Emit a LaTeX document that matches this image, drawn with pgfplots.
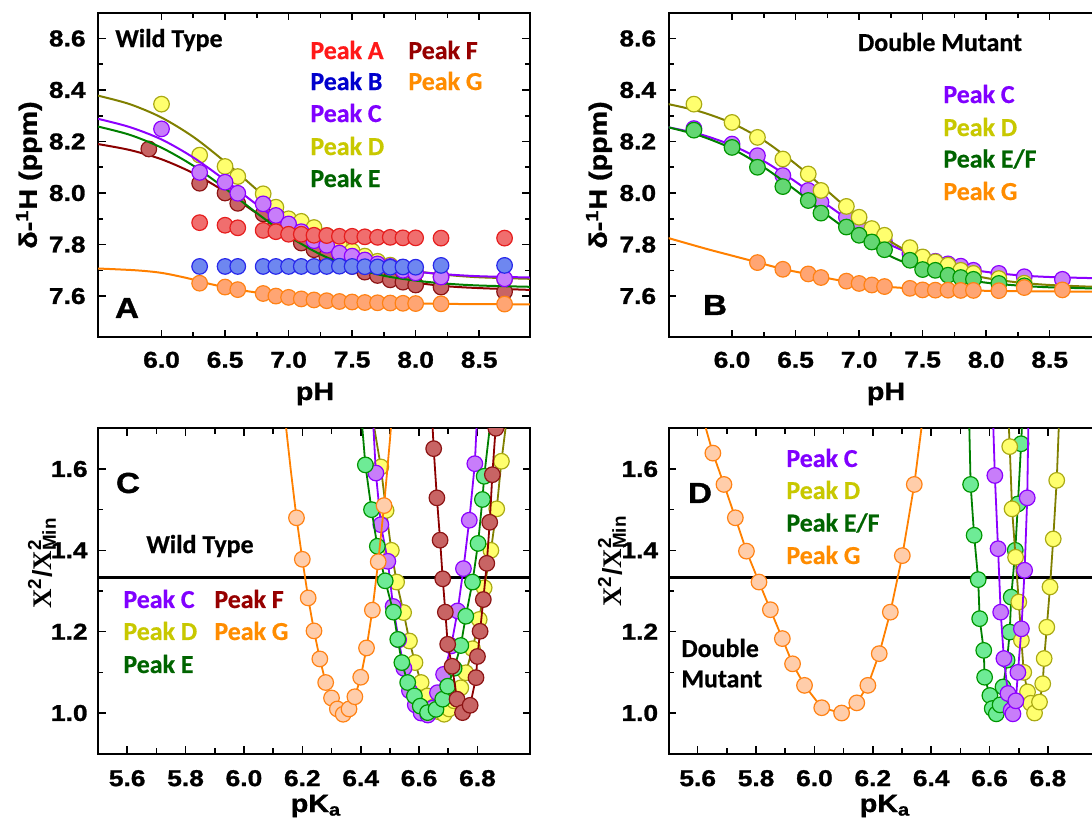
\documentclass[border=0pt]{standalone}
\usepackage{fontspec}
\setmainfont{Liberation Sans}
\newfontfamily\calf[BoldFeatures={FakeBold=0.6}]{Carlito}
\newfontfamily\heavy[FakeStretch=1.15, BoldFeatures={FakeBold=1.2}]{Liberation Sans}
\newfontfamily\tms{Liberation Serif}
\usepackage{pgfplots}
\pgfplotsset{compat=1.18}
\definecolor{redF}{RGB}{240,110,110}\definecolor{redE}{RGB}{230,30,30}\definecolor{redT}{RGB}{255,25,25}
\definecolor{bluF}{RGB}{110,135,240}\definecolor{bluE}{RGB}{40,40,235}\definecolor{bluT}{RGB}{0,0,205}
\definecolor{purF}{RGB}{200,125,250}\definecolor{purE}{RGB}{140,0,255}\definecolor{purT}{RGB}{128,0,255}
\definecolor{yelF}{RGB}{255,255,110}\definecolor{yelE}{RGB}{170,170,20}\definecolor{yelL}{RGB}{128,128,0}\definecolor{yelT}{RGB}{200,200,0}
\definecolor{grnF}{RGB}{110,235,150}\definecolor{grnF2}{RGB}{100,215,115}\definecolor{grnE}{RGB}{0,150,0}\definecolor{grnL}{RGB}{0,128,0}\definecolor{grnT}{RGB}{0,100,0}
\definecolor{drF}{RGB}{200,100,100}\definecolor{drE}{RGB}{140,20,20}\definecolor{drL}{RGB}{139,0,0}\definecolor{drT}{RGB}{150,0,0}
\definecolor{orF}{RGB}{255,165,115}\definecolor{orF2}{RGB}{255,205,170}\definecolor{orE}{RGB}{255,130,20}\definecolor{orL}{RGB}{255,128,0}\definecolor{orT}{RGB}{255,140,0}
\pgfplotsset{
 panel/.style={scale only axis, width=216bp, anchor=south west,
  axis line style={line width=1bp}, tick align=inside,
  major tick length=3.75bp, minor tick length=2.6bp,
  every tick/.style={line width=0.8bp, black},
  every minor tick/.style={line width=0.8bp, black},
  tick label style={font=\fontsize{11.5}{12}\selectfont\heavy\bfseries},
  /pgf/number format/assume math mode=true,
  /pgf/number format/fixed, /pgf/number format/fixed zerofill, /pgf/number format/precision=1,
  clip marker paths=true},
 mk/.style 2 args={only marks, mark=*, mark size=3.9bp, mark options={fill=#1, draw=#2, line width=0.6bp, solid}},
 ln/.style={no marks, line width=1bp, color=#1},
}
\newcommand{\lgd}{\fontsize{13}{14}\selectfont\calf\bfseries}
\newcommand{\plt}{\fontsize{14.5}{15}\selectfont\heavy\bfseries}
\newcommand{\axl}{\fontsize{12.5}{14}\selectfont\heavy\bfseries}
\begin{document}
\begin{tikzpicture}
\useasboundingbox (0,0) rectangle (546bp,411bp);
% ---------------- Panel A ----------------
\begin{axis}[panel, at={(49bp,242.35bp)}, height=162.3bp,
 xmin=5.5, xmax=8.9, ymin=7.44, ymax=8.7,
 xtick={6.0,6.5,7.0,7.5,8.0,8.5}, ytick={7.6,7.8,8.0,8.2,8.4,8.6},
 minor x tick num=1, minor y tick num=1,
 xticklabel style={anchor=north, inner sep=0pt, yshift=-7bp},
 yticklabel style={anchor=east, inner sep=0pt, xshift=-6bp}]
\addplot[ln=yelL, smooth] coordinates {(5.5,8.378)(5.75,8.345)(6.0,8.293)(6.25,8.218)(6.5,8.121)(6.75,8.013)(7.0,7.909)(7.25,7.824)(7.5,7.762)(7.75,7.722)(8.0,7.697)(8.25,7.682)(8.5,7.673)(8.9,7.667)};
\addplot[mk={yelF}{yelE}] coordinates {(6.0,8.345)(6.3,8.147)(6.5,8.103)(6.6,8.064)(6.8,7.997)(6.9,7.945)(7.0,7.90)(7.1,7.89)(7.2,7.866)(7.3,7.835)(7.4,7.80)(7.5,7.775)(7.6,7.755)(7.7,7.735)(7.8,7.72)(7.9,7.70)(8.0,7.69)(8.2,7.675)(8.7,7.665)};
\addplot[ln=drL, smooth] coordinates {(5.5,8.190)(5.75,8.167)(6.0,8.131)(6.25,8.077)(6.5,8.005)(6.75,7.921)(7.0,7.837)(7.25,7.765)(7.5,7.711)(7.75,7.675)(8.0,7.652)(8.25,7.638)(8.5,7.631)(8.9,7.624)};
\addplot[mk={drF}{drE}] coordinates {(5.9,8.171)(6.3,8.038)(6.5,8.0)(6.6,7.96)(6.8,7.919)(6.9,7.88)(7.0,7.85)(7.1,7.806)(7.2,7.78)(7.3,7.755)(7.4,7.735)(7.5,7.715)(7.6,7.693)(7.7,7.68)(7.8,7.663)(7.9,7.654)(8.0,7.643)(8.2,7.635)(8.7,7.617)};
\addplot[ln=grnL, smooth] coordinates {(5.5,8.258)(5.75,8.226)(6.0,8.176)(6.25,8.106)(6.5,8.018)(6.75,7.922)(7.0,7.833)(7.25,7.762)(7.5,7.712)(7.75,7.679)(8.0,7.660)(8.25,7.648)(8.5,7.641)(8.9,7.636)};
\addplot[ln=purE, smooth] coordinates {(5.5,8.288)(5.75,8.256)(6.0,8.208)(6.25,8.138)(6.5,8.050)(6.75,7.955)(7.0,7.867)(7.25,7.797)(7.5,7.747)(7.75,7.715)(8.0,7.695)(8.25,7.684)(8.5,7.677)(8.9,7.672)};
\addplot[mk={purF}{purE}] coordinates {(6.0,8.249)(6.3,8.08)(6.5,8.042)(6.6,7.999)(6.8,7.958)(6.9,7.913)(7.0,7.88)(7.1,7.85)(7.2,7.815)(7.3,7.797)(7.4,7.767)(7.5,7.755)(7.6,7.74)(7.7,7.725)(7.8,7.715)(7.9,7.70)(8.0,7.69)(8.2,7.674)(8.7,7.667)};
\addplot[mk={redF}{redE}] coordinates {(6.3,7.885)(6.5,7.875)(6.6,7.865)(6.8,7.855)(6.9,7.85)(7.0,7.84)(7.1,7.84)(7.2,7.836)(7.3,7.835)(7.4,7.832)(7.5,7.832)(7.6,7.83)(7.7,7.828)(7.8,7.828)(7.9,7.826)(8.0,7.826)(8.2,7.825)(8.7,7.825)};
\addplot[mk={bluF}{bluE}] coordinates {(6.3,7.715)(6.5,7.715)(6.6,7.715)(6.8,7.715)(6.9,7.715)(7.0,7.715)(7.1,7.715)(7.2,7.715)(7.3,7.715)(7.4,7.716)(7.5,7.715)(7.6,7.714)(7.7,7.713)(7.8,7.712)(7.9,7.713)(8.0,7.712)(8.2,7.719)(8.7,7.719)};
\addplot[ln=orL, smooth] coordinates {(5.5,7.707)(5.8,7.70)(6.0,7.69)(6.2,7.67)(6.4,7.645)(6.6,7.625)(6.8,7.61)(7.0,7.597)(7.2,7.587)(7.4,7.58)(7.6,7.576)(7.8,7.573)(8.0,7.571)(8.4,7.569)(8.9,7.568)};
\addplot[mk={orF}{orE}] coordinates {(6.3,7.65)(6.5,7.635)(6.6,7.625)(6.8,7.61)(6.9,7.60)(7.0,7.595)(7.1,7.589)(7.2,7.585)(7.3,7.582)(7.4,7.579)(7.5,7.577)(7.6,7.575)(7.7,7.574)(7.8,7.573)(7.9,7.572)(8.0,7.571)(8.2,7.570)(8.7,7.569)};
\end{axis}
% ---------------- Panel B ----------------
\begin{axis}[panel, at={(334.25bp,242.35bp)}, height=162.3bp,
 xmin=5.5, xmax=8.9, ymin=7.44, ymax=8.7,
 xtick={6.0,6.5,7.0,7.5,8.0,8.5}, ytick={7.6,7.8,8.0,8.2,8.4,8.6},
 minor x tick num=1, minor y tick num=1,
 xticklabel style={anchor=north, inner sep=0pt, yshift=-7bp},
 yticklabel style={anchor=east, inner sep=0pt, xshift=-6bp}]
\addplot[ln=purE, smooth] coordinates {(5.5,8.255)(5.75,8.228)(6.0,8.185)(6.25,8.124)(6.5,8.044)(6.75,7.954)(7.0,7.869)(7.25,7.798)(7.5,7.748)(7.75,7.714)(8.0,7.694)(8.25,7.681)(8.5,7.674)(8.9,7.669)};
\addplot[mk={purF}{purE}] coordinates {(5.7,8.25)(6.0,8.19)(6.2,8.145)(6.4,8.068)(6.6,8.010)(6.7,7.964)(6.9,7.906)(7.0,7.87)(7.1,7.84)(7.2,7.81)(7.4,7.765)(7.5,7.75)(7.6,7.735)(7.7,7.725)(7.8,7.716)(7.9,7.70)(8.1,7.688)(8.3,7.675)(8.6,7.665)};
\addplot[ln=yelL, smooth] coordinates {(5.5,8.345)(5.75,8.316)(6.0,8.271)(6.25,8.204)(6.5,8.113)(6.75,8.008)(7.0,7.902)(7.25,7.811)(7.5,7.744)(7.75,7.699)(8.0,7.670)(8.25,7.653)(8.5,7.643)(8.9,7.635)};
\addplot[mk={yelF}{yelE}] coordinates {(5.7,8.345)(6.0,8.274)(6.2,8.216)(6.4,8.132)(6.6,8.074)(6.7,8.010)(6.9,7.948)(7.0,7.906)(7.1,7.862)(7.2,7.836)(7.4,7.788)(7.5,7.752)(7.6,7.733)(7.7,7.720)(7.8,7.700)(7.9,7.688)(8.1,7.668)(8.3,7.65)};
\addplot[ln=grnL, smooth] coordinates {(5.5,8.255)(5.75,8.222)(6.0,8.172)(6.25,8.100)(6.5,8.011)(6.75,7.914)(7.0,7.825)(7.25,7.754)(7.5,7.704)(7.75,7.672)(8.0,7.652)(8.25,7.641)(8.5,7.634)(8.9,7.629)};
\addplot[mk={grnF2}{grnE}] coordinates {(5.7,8.244)(6.0,8.177)(6.2,8.100)(6.4,8.025)(6.6,7.971)(6.7,7.922)(6.9,7.868)(7.0,7.836)(7.1,7.810)(7.2,7.780)(7.4,7.739)(7.5,7.703)(7.6,7.700)(7.7,7.681)(7.8,7.672)(7.9,7.665)(8.1,7.649)(8.3,7.64)};
\addplot[ln=orL, smooth] coordinates {(5.5,7.825)(5.8,7.783)(6.0,7.757)(6.2,7.731)(6.4,7.705)(6.6,7.685)(6.8,7.665)(7.0,7.649)(7.2,7.637)(7.4,7.630)(7.6,7.625)(7.8,7.622)(8.1,7.620)(8.5,7.618)(8.9,7.617)};
\addplot[mk={orF}{orE}] coordinates {(6.2,7.73)(6.4,7.704)(6.6,7.686)(6.7,7.672)(6.9,7.658)(7.0,7.649)(7.1,7.643)(7.2,7.637)(7.4,7.63)(7.5,7.624)(7.6,7.623)(7.7,7.623)(7.8,7.622)(7.9,7.622)(8.1,7.621)(8.3,7.633)(8.6,7.624)};
\end{axis}
% ---------------- Panel C ----------------
\begin{axis}[panel, at={(49bp,34.15bp)}, height=162.7bp,
 xmin=5.5, xmax=6.98, ymin=0.9, ymax=1.7,
 xtick={5.6,5.8,6.0,6.2,6.4,6.6,6.8}, ytick={1.0,1.2,1.4,1.6},
 minor x tick num=1, minor y tick num=1,
 xticklabel style={anchor=north, inner sep=0pt, yshift=-8bp},
 yticklabel style={anchor=east, inner sep=0pt, xshift=-5bp}]
\addplot[no marks, black, line width=1.1bp] coordinates {(5.5,1.333)(6.98,1.333)};
\addplot[ln=yelL, line width=0.9bp] coordinates {(6.435,1.75)(6.469,1.605)(6.487,1.498)(6.505,1.40)(6.523,1.322)(6.547,1.247)(6.567,1.177)(6.586,1.124)(6.607,1.075)(6.629,1.042)(6.65,1.015)(6.668,1.003)(6.686,0.997)(6.703,1.01)(6.72,1.03)(6.743,1.062)(6.760,1.099)(6.783,1.158)(6.806,1.23)(6.823,1.308)(6.846,1.40)(6.866,1.502)(6.882,1.619)(6.905,1.75)};
\addplot[mk={yelF}{yelE}] coordinates {(6.469,1.605)(6.487,1.498)(6.505,1.40)(6.523,1.322)(6.547,1.247)(6.567,1.177)(6.586,1.124)(6.607,1.075)(6.629,1.042)(6.65,1.015)(6.668,1.003)(6.686,0.997)(6.703,1.01)(6.72,1.03)(6.743,1.062)(6.760,1.099)(6.783,1.158)(6.806,1.23)(6.823,1.308)(6.846,1.40)(6.866,1.502)(6.882,1.619)};
\addplot[ln=purE, line width=0.9bp] coordinates {(6.44,1.75)(6.452,1.59)(6.469,1.463)(6.493,1.373)(6.511,1.262)(6.53,1.18)(6.548,1.11)(6.567,1.055)(6.587,1.02)(6.607,1.0)(6.63,0.995)(6.646,1.012)(6.663,1.05)(6.684,1.095)(6.71,1.165)(6.732,1.251)(6.752,1.355)(6.772,1.474)(6.791,1.613)(6.80,1.75)};
\addplot[mk={purF}{purE}] coordinates {(6.452,1.59)(6.469,1.463)(6.493,1.373)(6.511,1.262)(6.53,1.18)(6.548,1.11)(6.567,1.055)(6.587,1.02)(6.607,1.0)(6.63,0.995)(6.646,1.012)(6.663,1.05)(6.684,1.095)(6.71,1.165)(6.732,1.251)(6.752,1.355)(6.772,1.474)(6.791,1.613)};
\addplot[ln=grnL, line width=0.9bp] coordinates {(6.40,1.75)(6.416,1.61)(6.437,1.50)(6.457,1.41)(6.484,1.325)(6.512,1.248)(6.527,1.181)(6.541,1.124)(6.561,1.075)(6.584,1.042)(6.604,1.017)(6.629,1.001)(6.658,1.009)(6.681,1.034)(6.698,1.066)(6.72,1.11)(6.743,1.166)(6.760,1.238)(6.783,1.322)(6.802,1.417)(6.817,1.525)(6.823,1.582)(6.85,1.75)};
\addplot[mk={grnF}{grnE}] coordinates {(6.416,1.61)(6.437,1.50)(6.457,1.41)(6.484,1.325)(6.512,1.248)(6.527,1.181)(6.541,1.124)(6.561,1.075)(6.584,1.042)(6.604,1.017)(6.629,1.001)(6.658,1.009)(6.681,1.034)(6.698,1.066)(6.72,1.11)(6.743,1.166)(6.760,1.238)(6.783,1.322)(6.802,1.417)(6.817,1.525)(6.823,1.582)};
\addplot[ln=drL, line width=0.9bp] coordinates {(6.643,1.75)(6.650,1.650)(6.661,1.529)(6.672,1.425)(6.681,1.330)(6.690,1.248)(6.698,1.169)(6.713,1.115)(6.730,1.034)(6.749,1.001)(6.775,1.019)(6.795,1.087)(6.800,1.139)(6.809,1.201)(6.820,1.279)(6.832,1.368)(6.842,1.469)(6.851,1.586)(6.863,1.709)(6.868,1.75)};
\addplot[mk={drF}{drE}] coordinates {(6.650,1.650)(6.661,1.529)(6.672,1.425)(6.681,1.330)(6.690,1.248)(6.698,1.169)(6.713,1.115)(6.730,1.034)(6.749,1.001)(6.775,1.019)(6.795,1.087)(6.800,1.139)(6.809,1.201)(6.820,1.279)(6.832,1.368)(6.842,1.469)(6.851,1.586)(6.863,1.70)};
\addplot[ln=orL, line width=0.9bp] coordinates {(6.14,1.73)(6.16,1.60)(6.18,1.48)(6.20,1.378)(6.22,1.283)(6.24,1.202)(6.26,1.133)(6.28,1.075)(6.30,1.037)(6.32,1.01)(6.34,0.997)(6.36,1.01)(6.38,1.04)(6.40,1.088)(6.42,1.16)(6.44,1.253)(6.46,1.372)(6.48,1.51)(6.50,1.67)(6.52,1.85)};
\addplot[mk={orF2}{orE}] coordinates {(6.18,1.48)(6.20,1.378)(6.22,1.283)(6.24,1.202)(6.26,1.133)(6.28,1.075)(6.30,1.037)(6.32,1.01)(6.34,0.997)(6.36,1.01)(6.38,1.04)(6.40,1.088)(6.42,1.16)(6.44,1.253)(6.46,1.372)(6.48,1.51)};
\end{axis}
% ---------------- Panel D ----------------
\begin{axis}[panel, at={(334.25bp,34.15bp)}, height=162.7bp,
 xmin=5.5, xmax=6.98, ymin=0.9, ymax=1.7,
 xtick={5.6,5.8,6.0,6.2,6.4,6.6,6.8}, ytick={1.0,1.2,1.4,1.6},
 minor x tick num=1, minor y tick num=1,
 xticklabel style={anchor=north, inner sep=0pt, yshift=-8bp},
 yticklabel style={anchor=east, inner sep=0pt, xshift=-5bp}]
\addplot[no marks, black, line width=1.1bp] coordinates {(5.5,1.333)(6.98,1.333)};
\addplot[ln=grnL, line width=0.9bp] coordinates {(6.53,1.72)(6.535,1.562)(6.547,1.437)(6.561,1.328)(6.566,1.232)(6.580,1.154)(6.583,1.088)(6.601,1.043)(6.609,1.011)(6.623,0.998)(6.636,1.02)(6.646,1.064)(6.660,1.13)(6.669,1.199)(6.674,1.285)(6.688,1.40)(6.697,1.514)(6.708,1.662)(6.712,1.72)};
\addplot[mk={grnF}{grnE}] coordinates {(6.535,1.562)(6.547,1.437)(6.561,1.328)(6.566,1.232)(6.580,1.154)(6.583,1.088)(6.601,1.043)(6.609,1.011)(6.623,0.998)(6.636,1.02)(6.646,1.064)(6.660,1.13)(6.669,1.199)(6.674,1.285)(6.688,1.40)(6.697,1.514)(6.708,1.662)};
\addplot[ln=yelL, line width=0.9bp] coordinates {(6.665,1.72)(6.669,1.655)(6.677,1.502)(6.689,1.383)(6.700,1.273)(6.709,1.179)(6.717,1.10)(6.730,1.052)(6.741,1.024)(6.754,1.0)(6.771,1.027)(6.782,1.072)(6.787,1.134)(6.796,1.211)(6.807,1.31)(6.818,1.428)(6.830,1.572)(6.838,1.72)};
\addplot[mk={yelF}{yelE}] coordinates {(6.669,1.655)(6.677,1.502)(6.689,1.383)(6.700,1.273)(6.709,1.179)(6.717,1.10)(6.730,1.052)(6.741,1.024)(6.754,1.0)(6.771,1.027)(6.782,1.072)(6.787,1.134)(6.796,1.211)(6.807,1.31)(6.818,1.428)(6.830,1.572)};
\addplot[ln=purE, line width=0.9bp] coordinates {(6.612,1.72)(6.618,1.584)(6.629,1.404)(6.638,1.248)(6.649,1.134)(6.663,1.048)(6.674,1.007)(6.68,0.998)(6.69,1.03)(6.697,1.10)(6.709,1.207)(6.72,1.351)(6.729,1.529)(6.733,1.72)};
\addplot[mk={purF}{purE}] coordinates {(6.618,1.584)(6.629,1.404)(6.638,1.248)(6.649,1.134)(6.663,1.048)(6.674,1.007)(6.68,0.998)(6.69,1.03)(6.697,1.10)(6.709,1.207)(6.72,1.351)(6.729,1.529)};
\addplot[ln=orL, line width=0.9bp] coordinates {(5.62,1.72)(5.652,1.639)(5.690,1.562)(5.729,1.480)(5.767,1.398)(5.810,1.322)(5.849,1.254)(5.890,1.183)(5.925,1.121)(5.966,1.068)(6.025,1.013)(6.093,1.000)(6.145,1.025)(6.183,1.068)(6.222,1.146)(6.260,1.248)(6.301,1.387)(6.342,1.562)(6.37,1.72)};
\addplot[mk={orF2}{orE}] coordinates {(5.652,1.639)(5.690,1.562)(5.729,1.480)(5.767,1.398)(5.810,1.322)(5.849,1.254)(5.890,1.183)(5.925,1.121)(5.966,1.068)(6.025,1.013)(6.093,1.000)(6.145,1.025)(6.183,1.068)(6.222,1.146)(6.260,1.248)(6.301,1.387)(6.342,1.562)};
\end{axis}
% ---------------- Texts ----------------
\begin{scope}[x=0.5bp,y=0.5bp]
% A
\node[anchor=west, inner sep=0pt] at (115,782) {\lgd Wild Type};
\node[anchor=west, inner sep=0pt, text=redT] at (310,772) {\lgd Peak A};
\node[anchor=west, inner sep=0pt, text=bluT] at (310,741) {\lgd Peak B};
\node[anchor=west, inner sep=0pt, text=purT] at (310,709) {\lgd Peak C};
\node[anchor=west, inner sep=0pt, text=yelT] at (310,676) {\lgd Peak D};
\node[anchor=west, inner sep=0pt, text=grnT] at (310,644) {\lgd Peak E};
\node[anchor=west, inner sep=0pt, text=drT] at (408,772) {\lgd Peak F};
\node[anchor=west, inner sep=0pt, text=orT] at (408,741) {\lgd Peak G};
\node[inner sep=0pt] at (127,514) {\plt A};
\node[rotate=90, inner sep=0pt] at (29,647) {\axl δ-\textsuperscript{1}H (ppm)};
\node[anchor=base, inner sep=0pt] at (315,422) {\axl pH};
% B
\node[inner sep=0pt] at (940,780) {\lgd Double Mutant};
\node[anchor=west, inner sep=0pt, text=purT] at (943,728) {\lgd Peak C};
\node[anchor=west, inner sep=0pt, text=yelT] at (943,695) {\lgd Peak D};
\node[anchor=west, inner sep=0pt, text=grnT] at (943,663) {\lgd Peak E/F};
\node[anchor=west, inner sep=0pt, text=orT] at (943,631) {\lgd Peak G};
\node[inner sep=0pt] at (715,517) {\plt B};
\node[rotate=90, inner sep=0pt] at (599,647) {\axl δ-\textsuperscript{1}H (ppm)};
\node[anchor=base, inner sep=0pt] at (886,422) {\axl pH};
% C
\node[inner sep=0pt] at (128,339) {\plt C};
\node[anchor=west, inner sep=0pt] at (146,276) {\lgd Wild Type};
\node[anchor=west, inner sep=0pt, text=purT] at (123,223) {\lgd Peak C};
\node[anchor=west, inner sep=0pt, text=yelT] at (123,191) {\lgd Peak D};
\node[anchor=west, inner sep=0pt, text=grnT] at (123,158) {\lgd Peak E};
\node[anchor=west, inner sep=0pt, text=drT] at (214,223) {\lgd Peak F};
\node[anchor=west, inner sep=0pt, text=orT] at (214,191) {\lgd Peak G};
\node[rotate=90, inner sep=0pt] at (42,259) {\fontsize{13.5}{14}\selectfont\bfseries{\tms X}\textsuperscript{2}/{\tms X}\rlap{\textsuperscript{2}}\textsubscript{Min}};
\node[anchor=base, inner sep=0pt] at (316,10) {\axl pK\textsubscript{a}};
% D
\node[inner sep=0pt] at (700,329) {\plt D};
\node[anchor=west, inner sep=0pt, text=purT] at (786,364) {\lgd Peak C};
\node[anchor=west, inner sep=0pt, text=yelT] at (786,332) {\lgd Peak D};
\node[anchor=west, inner sep=0pt, text=grnT] at (786,299) {\lgd Peak E/F};
\node[anchor=west, inner sep=0pt, text=orT] at (786,267) {\lgd Peak G};
\node[anchor=west, inner sep=0pt] at (681,174) {\lgd Double};
\node[anchor=west, inner sep=0pt] at (681,143) {\lgd Mutant};
\node[rotate=90, inner sep=0pt] at (612,261) {\fontsize{13.5}{14}\selectfont\bfseries{\tms X}\textsuperscript{2}/{\tms X}\rlap{\textsuperscript{2}}\textsubscript{Min}};
\node[anchor=base, inner sep=0pt] at (885,10) {\axl pK\textsubscript{a}};
\end{scope}
\end{tikzpicture}
\end{document}
